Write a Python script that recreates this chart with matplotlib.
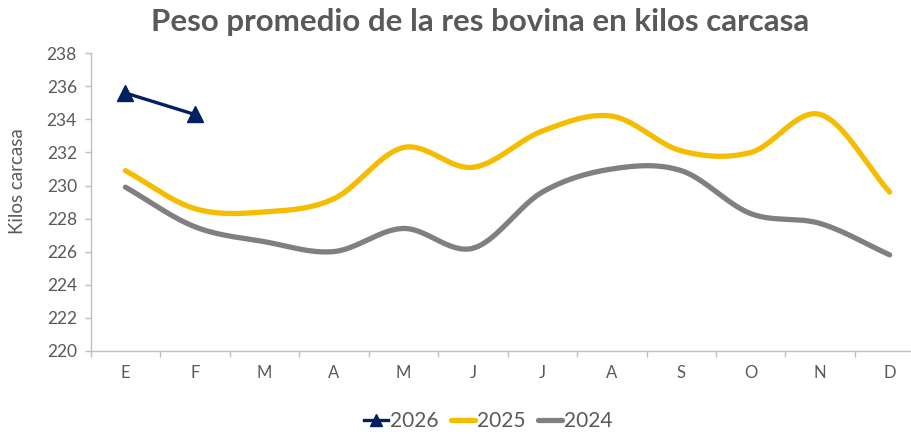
import numpy as np
import matplotlib.pyplot as plt

months = ['E', 'F', 'M', 'A', 'M', 'J', 'J', 'A', 'S', 'O', 'N', 'D']
y2026 = [235.6, 234.3]
y2025 = [230.9, 228.6, 228.4, 229.2, 232.3, 231.1, 233.3, 234.2, 232.1, 232.0, 234.3, 229.6]
y2024 = [229.9, 227.5, 226.6, 226.0, 227.4, 226.2, 229.6, 231.0, 230.9, 228.3, 227.7, 225.8]

c_navy = '#002060'
c_yellow = '#F5BC00'
c_gray = '#808080'
c_text = '#595959'
c_axis = '#BFBFBF'

plt.rcParams['font.family'] = ['Lato', 'DejaVu Sans']


def smooth(y, n=40):
    # catmull-rom curve through the points, like excel's smoothed line
    x = np.arange(len(y), dtype=float)
    p = np.array(y, dtype=float)
    px = np.concatenate([[2 * x[0] - x[1]], x, [2 * x[-1] - x[-2]]])
    py = np.concatenate([[2 * p[0] - p[1]], p, [2 * p[-1] - p[-2]]])
    xs, ys = [], []
    t = np.linspace(0, 1, n)
    for i in range(1, len(px) - 2):
        for arr, out in ((px, xs), (py, ys)):
            p0, p1, p2, p3 = arr[i - 1], arr[i], arr[i + 1], arr[i + 2]
            out.append(0.5 * (2 * p1 + (-p0 + p2) * t
                              + (2 * p0 - 5 * p1 + 4 * p2 - p3) * t ** 2
                              + (-p0 + 3 * p1 - 3 * p2 + p3) * t ** 3))
    return np.concatenate(xs), np.concatenate(ys)


fig = plt.figure(figsize=(9.11, 4.34), dpi=100)
ax = fig.add_axes([0.0996, 0.192, 0.9151, 0.685])

x = np.arange(len(months))
sx, sy = smooth(y2024)
ax.plot(sx, sy, color=c_gray, lw=3.8, solid_capstyle='round', label='2024', zorder=2)
sx, sy = smooth(y2025)
ax.plot(sx, sy, color=c_yellow, lw=3.8, solid_capstyle='round', label='2025', zorder=3)
ax.plot(x[:len(y2026)], y2026, color=c_navy, lw=2.4, marker='^', markersize=12,
        label='2026', zorder=4)

ax.set_xlim(-0.5, 11.5)
ax.set_ylim(220, 238)
ax.set_yticks(np.arange(220, 239, 2))
ax.set_xticks(x)
ax.set_xticklabels(months)
ax.set_xticks(np.arange(-0.5, 12, 1), minor=True)
ax.tick_params(axis='x', which='major', length=0, pad=10, labelsize=12, labelcolor=c_text)
ax.tick_params(axis='x', which='minor', length=4, color=c_axis, width=1)
ax.tick_params(axis='y', length=4, color=c_axis, width=1, labelsize=12.5,
               labelcolor=c_text, pad=6)

for s in ['top', 'right']:
    ax.spines[s].set_visible(False)
for s in ['left', 'bottom']:
    ax.spines[s].set_color(c_axis)
    ax.spines[s].set_linewidth(1)

fig.text(0.527, 1 - 22 / 434, 'Peso promedio de la res bovina en kilos carcasa',
         ha='center', va='center', fontsize=22.5, fontweight='bold', color=c_text)
fig.text(18 / 911, 1 - 181 / 434, 'Kilos carcasa', rotation=90, ha='center',
         va='center', fontsize=13.5, color=c_text)

handles, labels = ax.get_legend_handles_labels()
order = [2, 1, 0]
leg = fig.legend([handles[i] for i in order], [labels[i] for i in order],
                 loc='center', bbox_to_anchor=(488 / 911, 1 - 421 / 434), ncol=3,
                 frameon=False, fontsize=15, handlelength=1.15, handletextpad=0.1,
                 columnspacing=0.6, labelcolor=c_text)
leg.legend_handles[0].set_markersize(9)

fig.savefig('out.png', dpi=100)
